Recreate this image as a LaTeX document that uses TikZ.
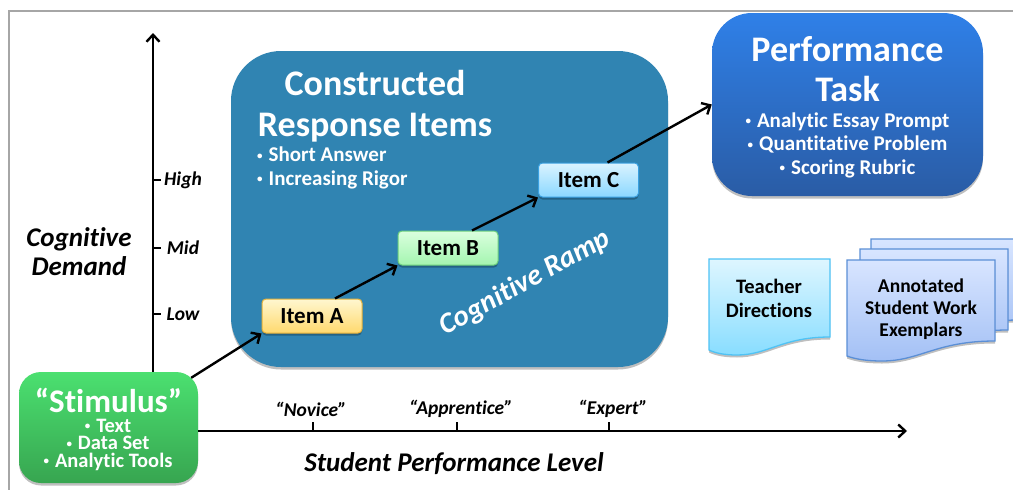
\documentclass[tikz,border=0pt]{standalone}
\usepackage{fontspec}
\setmainfont{Carlito}[Ligatures=NoCommon]
\usetikzlibrary{arrows.meta,calc,shadows}

\definecolor{rampblue}{HTML}{3084B2}
\definecolor{frame}{HTML}{A6A6A6}
\definecolor{stimtop}{HTML}{4BE070}
\definecolor{stimbot}{HTML}{37A550}
\definecolor{perftop}{HTML}{2F80E8}
\definecolor{perfbot}{HTML}{2A5CA5}
\definecolor{aline}{HTML}{E6B23A}
\definecolor{atop}{HTML}{FFF7D0}
\definecolor{abot}{HTML}{FFD96E}
\definecolor{bline}{HTML}{6CCF7D}
\definecolor{btop}{HTML}{DAFFDE}
\definecolor{bbot}{HTML}{A4F5B0}
\definecolor{cline}{HTML}{3AA0E0}
\definecolor{ctop}{HTML}{DAF3FF}
\definecolor{cbot}{HTML}{8BD8FF}
\definecolor{teachline}{HTML}{4FC3F5}
\definecolor{teachtop}{HTML}{DEF6FF}
\definecolor{teachbot}{HTML}{88DDFF}
\definecolor{workline}{HTML}{5B8FD6}
\definecolor{worktop}{HTML}{D8E5FF}
\definecolor{workbot}{HTML}{A3C0F5}

\newcommand\bul{\raisebox{2.5pt}{\fontsize{11}{11}\selectfont •}\hspace{6pt}}

\begin{document}
\begin{tikzpicture}[
x=1pt,y=-1pt,
softshadow/.style={
  drop shadow={shadow xshift=0pt,shadow yshift=-2.5pt,opacity=.25,fill=black}
},
bigbox/.style={
  rounded corners=#1,
  softshadow,
  inner sep=0pt
},
boxtitle/.style={
  text=white,
  align=center,
  font=\fontsize{#1}{#1}\selectfont\bfseries
},
boxlist/.style={
  text=white,
  align=center,
  inner sep=0pt,
  font=\fontsize{20.5}{#1}\selectfont\bfseries
},
itembox/.style={
  draw=#1line,
  top color=#1top,
  bottom color=#1bot,
  line width=1pt,
  rounded corners=4pt,
  minimum width=100pt,
  minimum height=34pt,
  inner sep=0pt,
  softshadow,
  font=\fontsize{23}{24}\selectfont\bfseries
},
page/.style={
  draw=#1line,
  top color=#1top,
  bottom color=#1bot,
  line width=1.3pt,
  softshadow
},
doctext/.style={
  align=center,
  inner sep=0pt
},
axisline/.style={
  line width=2.4pt,
  -{Straight Barb[length=7pt,width=13pt,line width=2.4pt]}
},
ticklabel/.style={
  font=\fontsize{19.5}{20}\selectfont\bfseries\itshape
},
axistitle/.style={
  align=center,
  font=\fontsize{27}{29.5}\selectfont\bfseries\itshape
}
]
\clip (0,0) rectangle (1013,490);
\fill[white] (0,0) rectangle (1013,490);

% frame
\coordinate (topleft) at (9,11);
\draw[frame,line width=1.6pt] (topleft |- 0,490) -- (topleft) -- (topleft -| 1013,0);

% axes
\coordinate (ytop) at (153,33);
\coordinate (xend) at (907,431);

\node[bigbox=50pt,fill=rampblue,minimum width=437pt,minimum height=316pt] (ramp) at (449.5,209) {};

\node[bigbox=22pt,minimum width=179pt,minimum height=111pt,top color=stimtop,bottom color=stimbot] (stimulus) at (108.5,427.5) {};
\node[boxtitle=33] (stimtitle) at (108.5,400) {“Stimulus”};
\node[boxlist=17.5] (stimlist) at (108,444.5) {\bul Text\\ \bul Data Set\\ \bul Analytic Tools};

\node[bigbox=40pt,minimum width=271pt,minimum height=183pt,top color=perftop,bottom color=perfbot] (perf) at (847.5,104.5) {};
\node[boxtitle=36] (perftitle1) at (847.5,49) {Performance};
\node[boxtitle=36] (perftitle2) at (847.5,89) {Task};
\node[boxlist=23.5,font=\fontsize{21}{23.5}\selectfont\bfseries] (perflist) at (847.5,145) {\bul Analytic Essay Prompt\\ \bul Quantitative Problem\\ \bul Scoring Rubric};

\draw[axisline] (stimulus.north -| ytop) -- (ytop);
\draw[axisline] (stimulus.east |- xend) -- (xend);

\foreach \y/\name in {180/High,248/Mid,314/Low}{
  \node[ticklabel] (\name) at (183,\y) {\name};
  \draw[line width=1.6pt] (\name.west -| ytop) -- ++(8,0);
}
\foreach \x/\lx/\name in {313/311/Novice,457/461/Apprentice,609/613/Expert}{
  \node[ticklabel] (\name) at (\lx,409) {“\name”};
  \coordinate (\name tick) at (\x,431);
  \draw[line width=1.6pt] (\name tick) -- ++(0,-9);
}

\node[axistitle] (demand) at (79,251.5) {Cognitive\\Demand};
\node[axistitle] (level) at (454,464) {Student Performance Level};

% inside the ramp
\node[text=white,align=center,font=\fontsize{36}{41}\selectfont\bfseries] (ramptitle) at (375,106) {Constructed\\Response Items};
\node[text=white,align=left,anchor=north west,inner sep=0pt,font=\fontsize{21}{23.5}\selectfont\bfseries] (rampbullets) at (257,147) {\bul Short Answer\\\bul Increasing Rigor};
\node[text=white,rotate=29,font=\fontsize{29}{30}\selectfont\bfseries\itshape] (ramplabel) at (525,283) {Cognitive Ramp};

\node[itembox=a] (itema) at (312,316) {Item A};
\node[itembox=b] (itemb) at (448,248) {Item B};
\node[itembox=c] (itemc) at (588.5,180) {Item C};

\draw[axisline] ($(stimulus.north east)+(-7,6)$) -- (itema.south west);
\draw[axisline] ($(itema.north)+(23,0)$) -- (itemb.south west);
\draw[axisline] ($(itemb.north)+(24,0)$) -- (itemc.south west);
\draw[axisline] ($(itemc.north)+(19,0)$) -- (perf.west);

% documents
\path[page=teach]
  (709,259) -- (830,259) -- (830,337) .. controls (782,337) and (768,355) .. (737,355) .. controls (724,355) and (715,353) .. (709,350) -- cycle;
\node[doctext,font=\fontsize{20.5}{24}\selectfont\bfseries] (teacher) at (769,298.5) {Teacher\\Directions};

\foreach \dx/\dy in {24/-21,13/-11,0/0}{
  \path[page=work,shift={(\dx,\dy)}]
    (847,260) -- (995,260) -- (995,341) .. controls (936,341) and (920,361) .. (882,361) .. controls (866,361) and (855,359) .. (847,356) -- cycle;
}
\node[doctext,font=\fontsize{19.5}{22}\selectfont\bfseries] (exemplars) at (921,309.5) {Annotated\\Student Work\\Exemplars};
\end{tikzpicture}
\end{document}
